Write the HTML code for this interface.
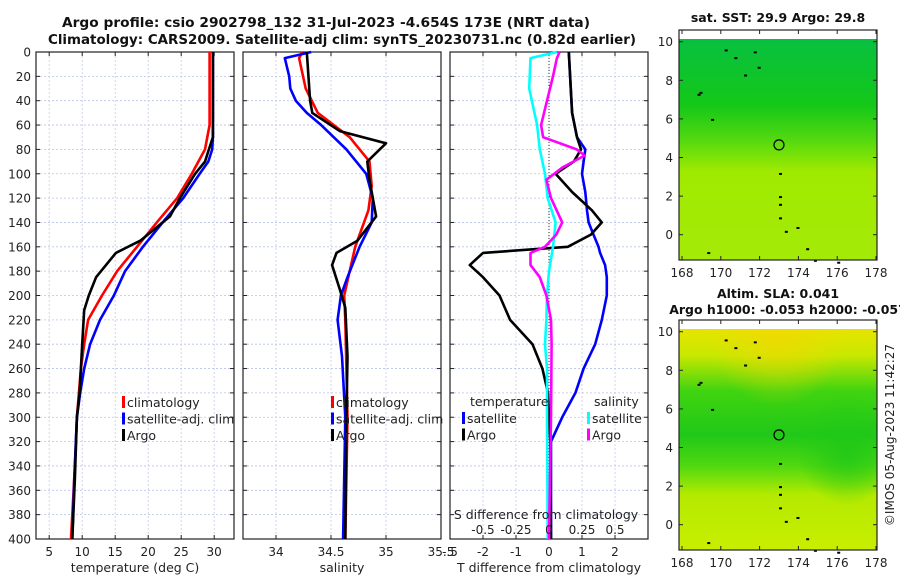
<!DOCTYPE html>
<html><head><meta charset="utf-8"><style>
html,body{margin:0;padding:0;background:#fff;}
svg{display:block;font-family:"DejaVu Sans","Liberation Sans",sans-serif;}
</style></head><body>
<svg id="fig" width="900" height="580" viewBox="0 0 900 580" xmlns="http://www.w3.org/2000/svg">
<defs>
<linearGradient id="sstg" x1="0" y1="0" x2="0" y2="1">
<stop offset="0" stop-color="#08c040"/><stop offset="0.3" stop-color="#14c818"/><stop offset="0.45" stop-color="#50d810"/><stop offset="0.6" stop-color="#a0ea00"/><stop offset="1" stop-color="#a4ea08"/>
</linearGradient>
<linearGradient id="slag" x1="0" y1="0" x2="0" y2="1">
<stop offset="0" stop-color="#e6e400"/><stop offset="0.12" stop-color="#c8e800"/><stop offset="0.28" stop-color="#40d410"/><stop offset="0.48" stop-color="#20c818"/><stop offset="0.62" stop-color="#50d810"/><stop offset="0.75" stop-color="#b4ea00"/><stop offset="1" stop-color="#c8ee00"/>
</linearGradient>
<radialGradient id="slaband" cx="0.85" cy="0.55" r="0.25"><stop offset="0" stop-color="#20c818" stop-opacity="0.9"/><stop offset="1" stop-color="#20c818" stop-opacity="0"/></radialGradient>
<radialGradient id="slatop" cx="0.5" cy="0" r="0.35"><stop offset="0" stop-color="#f2d800" stop-opacity="0.8"/><stop offset="1" stop-color="#f2d800" stop-opacity="0"/></radialGradient>
</defs>
<g font-weight="bold" font-size="13.5" fill="#111">
<text x="62" y="27" textLength="528" lengthAdjust="spacingAndGlyphs">Argo profile: csio 2902798_132 31-Jul-2023 -4.654S 173E (NRT data)</text>
<text x="48" y="44" textLength="588" lengthAdjust="spacingAndGlyphs">Climatology: CARS2009. Satellite-adj clim: synTS_20230731.nc (0.82d earlier)</text>
</g>
<g id="panels"></g>
<g id="maps"></g>
<text transform="translate(894,435) rotate(-90)" font-size="12" fill="#222" text-anchor="middle">©IMOS 05-Aug-2023 11:42:27</text>
</svg>
<script>
// ---- data ----
const depthT = [0,60,80,100,120,140,160,180,200,220,240,260,300,340,400];
const tempClim = [29.3,29.3,28.6,26.6,24.4,21.3,18.3,15.3,13.0,10.9,10.3,9.8,9.2,8.9,8.3];
const depthTS = [0,70,80,90,100,120,140,160,180,200,220,240,260,280,300,350,400];
const tempSat = [29.8,29.8,29.7,29.1,27.8,25.3,22.2,19.2,16.5,14.8,12.7,11.2,10.3,9.7,9.2,8.8,8.5];
const depthTA = [0,70,80,90,100,120,135,155,165,185,200,212,240,280,300,350,400];
const tempArgo = [29.8,29.8,29.2,28.6,27.1,24.8,23.3,18.8,15.1,12.1,11.0,10.3,10.0,9.6,9.2,8.9,8.5];

const depthSA = [0,40,50,65,75,90,105,135,155,165,175,195,210,250,300,400];
const salArgo = [34.28,34.31,34.33,34.58,35.0,34.83,34.85,34.91,34.74,34.55,34.51,34.58,34.63,34.65,34.64,34.63];
const depthSC = [0,5,30,50,70,90,110,130,160,200,220,300,400];
const salClim = [34.24,34.21,34.27,34.38,34.67,34.85,34.87,34.84,34.72,34.62,34.63,34.65,34.63];
const depthSS = [0,5,20,30,40,50,60,80,100,120,140,160,185,200,220,250,300,400];
const salSat = [34.32,34.08,34.12,34.13,34.18,34.28,34.41,34.64,34.82,34.88,34.87,34.76,34.65,34.59,34.56,34.60,34.63,34.61];

const depthD = [0,50,70,80,90,100,115,130,140,150,160,165,175,185,200,220,240,260,280,300,320,400];
const dTsat = [0.6,0.7,0.85,1.1,1.05,1.0,1.1,1.15,1.2,1.35,1.5,1.55,1.7,1.75,1.75,1.6,1.4,1.05,0.8,0.4,0.06,0.06];
const dTargo = [0.6,0.7,0.85,0.97,0.75,0.2,0.7,1.3,1.6,1.27,0.57,-2.0,-2.4,-2.0,-1.5,-1.18,-0.5,-0.2,-0.03,0.0,0.04,0.06];
const depthDS = [0,5,30,60,80,100,120,140,160,180,200,220,240,260,300,400];
const dSsat = [0.06,-0.14,-0.15,-0.09,-0.07,-0.03,-0.01,0.05,0.03,0.0,-0.015,-0.02,-0.03,-0.015,-0.015,-0.01];
const depthDM = [0,5,20,40,60,70,80,85,95,105,120,140,150,160,165,175,185,200,220,240,300,400];
const dSargo = [0.08,0.06,0.03,-0.015,-0.06,-0.045,0.21,0.27,0.1,-0.02,0.015,0.1,0.055,-0.03,-0.14,-0.14,-0.07,-0.02,0.015,0.02,0.015,0.0];

const tTicks = [5,10,15,20,25,30];
const sTicks = [34,34.5,35,35.5];
const dTTicks = [-3,-2,-1,0,1,2];
const dTLabels = ['-.5','-2','-1','0','1','2'];
const dSTicks = [-0.5,-0.25,0,0.25,0.5];
const dSLabels = ['-0.5','-0.25','0','0.25','0.5'];
const depthTicks = [0,20,40,60,80,100,120,140,160,180,200,220,240,260,280,300,320,340,360,380,400];
const lonTicks = [168,170,172,174,176,178];
const latTicks = [0,2,4,6,8,10];

// ---- helpers ----
const NS='http://www.w3.org/2000/svg';
function mk(tag, attrs, parent, txt){const e=document.createElementNS(NS,tag);for(const k in attrs)e.setAttribute(k,attrs[k]);if(txt!==undefined)e.textContent=txt;parent.appendChild(e);return e;}
const PT=52, PB=539;
const yD = d => PT + d*(PB-PT)/400;
const panelsG = document.getElementById('panels');

function panel(x0, xmin, xmax, name){
  const g = mk('g',{},panelsG);
  
  
  const w=198;
  const sx = v => x0 + (v-xmin)*w/(xmax-xmin);
  return {g,sx,x0,w};
}
function frame(p, xTicks, xLabels, xlabel, showDepth){
  const g=p.g;
  depthTicks.forEach(d=>{ if(d>0&&d<400){const l=mk('line',{x1:p.x0,x2:p.x0+p.w,y1:yD(d),y2:yD(d),stroke:'#b8c4e8','stroke-width':0.8,'stroke-dasharray':'2,2'},g);}});
  xTicks.forEach(v=>{const x=p.sx(v); if(x>p.x0+1&&x<p.x0+p.w-1){const l=mk('line',{x1:x,x2:x,y1:PT,y2:PB,stroke:'#c8c8e8','stroke-width':0.8,'stroke-dasharray':'2,2'},g);}});
  depthTicks.forEach(d=>{mk('line',{x1:p.x0,x2:p.x0+4,y1:yD(d),y2:yD(d),stroke:'#222'},g);mk('line',{x1:p.x0+p.w,x2:p.x0+p.w-4,y1:yD(d),y2:yD(d),stroke:'#222'},g);
    if(showDepth){const t=mk('text',{x:p.x0-5,y:yD(d)+4.5,'font-size':12,'text-anchor':'end',fill:'#222'},g,String(d));}});
  xTicks.forEach((v,i)=>{const x=p.sx(v);mk('line',{x1:x,x2:x,y1:PB,y2:PB-4,stroke:'#222'},g);mk('line',{x1:x,x2:x,y1:PT,y2:PT+4,stroke:'#222'},g);
    const t=mk('text',{x:x,y:PB+17,'font-size':12,'text-anchor':'middle',fill:'#222'},g,xLabels[i]);});
  const xl=mk('text',{x:p.x0+p.w/2,y:PB+33,'font-size':12.5,'text-anchor':'middle',fill:'#222'},g,xlabel);
  
  const r=mk('rect',{x:p.x0,y:PT,width:p.w,height:PB-PT,fill:'none',stroke:'#222','stroke-width':1.2},g);
  
}
function line(p, depths, vals, f, color, name, w){
  const pts = depths.map((d,i)=>f(vals[i]).toFixed(1)+','+yD(d).toFixed(1)).join(' ');
  const pl = mk('polyline',{points:pts,fill:'none',stroke:color,'stroke-width':w||2.6,'stroke-linejoin':'round'},p.g);
  
  
}
function legend(p, x, y, items){
  items.forEach((it,i)=>{
    const yy=y+i*16.5;
    const r=mk('rect',{x:x,y:yy-10,width:3,height:12,fill:it[1]},p.g);
    
    const t=mk('text',{x:x+5,y:yy+1,'font-size':12.5,fill:'#222'},p.g,it[0]);
    
  });
}

const p1 = panel(36, 3, 33, 'temperature-panel');
frame(p1, tTicks, tTicks.map(String), 'temperature (deg C)', true);
line(p1, depthT, tempClim, p1.sx, '#ff0000', 'climatology-temp-line');
line(p1, depthTS, tempSat, p1.sx, '#0000ff', 'satellite-temp-line');
line(p1, depthTA, tempArgo, p1.sx, '#000000', 'argo-temp-line');
legend(p1, 122, 406, [['climatology','#ff0000'],['satellite-adj. clim','#0000ff'],['Argo','#000000']]);

const p2 = panel(243, 33.7, 35.5, 'salinity-panel');
frame(p2, sTicks, sTicks.map(String), 'salinity', false);
line(p2, depthSC, salClim, p2.sx, '#ff0000', 'climatology-salinity-line');
line(p2, depthSS, salSat, p2.sx, '#0000ff', 'satellite-salinity-line');
line(p2, depthSA, salArgo, p2.sx, '#000000', 'argo-salinity-line');
legend(p2, 331, 406, [['climatology','#ff0000'],['satellite-adj. clim','#0000ff'],['Argo','#000000']]);

const p3 = panel(450, -3, 3, 'difference-panel');
frame(p3, dTTicks, dTLabels, 'T difference from climatology', false);
const zx = p3.sx(0);
const zl = mk('line',{x1:zx,x2:zx,y1:PT,y2:PB,stroke:'#333','stroke-width':1,'stroke-dasharray':'1,2'},p3.g);

const sS = v => p3.sx(v*4);
line(p3, depthD, dTsat, p3.sx, '#0000ff', 'satellite-tdiff-line');
line(p3, depthD, dTargo, p3.sx, '#000000', 'argo-tdiff-line');
line(p3, depthDS, dSsat, sS, '#00ffff', 'satellite-sdiff-line');
line(p3, depthDM, dSargo, sS, '#ff00ff', 'argo-sdiff-line');
[['temperature',470,406],['salinity',594,406]].forEach(a=>{const t=mk('text',{x:a[1],y:a[2],'font-size':12.5,fill:'#222'},p3.g,a[0]);});
legend(p3, 462, 422, [['satellite','#0000ff'],['Argo','#000000']]);
legend(p3, 587, 422, [['satellite','#00ffff'],['Argo','#ff00ff']]);
const sdt=mk('text',{x:p3.x0+p3.w/2-3,y:519,'font-size':12.5,'text-anchor':'middle',fill:'#222'},p3.g,'S difference from climatology');

dSTicks.forEach((v,i)=>{const t=mk('text',{x:sS(v),y:534,'font-size':12,'text-anchor':'middle',fill:'#222'},p3.g,dSLabels[i]);});

const mapsG=document.getElementById('maps');
const coastX=[170.2,171.7,171.9,169.5,168.8,173.0,173.0,173.0,173.0,173.3,173.9,174.4,174.8,176.0,169.3,170.7,171.2,168.9];
const coastY=[9.6,9.5,8.7,6.0,7.3,3.2,2.0,1.6,0.9,0.2,0.4,-0.7,-1.3,-1.4,-0.9,9.2,8.3,7.4];
function map(top, title1, title2, fill, extra, name){
  const g=mk('g',{},mapsG);
  
  
  const L=679,R=877,T=top,B=top+230;
  const sx = lon => 682 + (lon-168)*19.4;
  const sy = lat => (top+11.7) + (10-lat)*19.3;
  mk('rect',{x:L,y:T+9,width:R-L,height:B-T-9,fill:fill},g);
  extra.forEach(f=>mk('rect',{x:L,y:T+9,width:R-L,height:B-T-9,fill:f},g));
  coastX.forEach((lo,i)=>{const c=mk('rect',{x:sx(lo),y:sy(coastY[i]),width:3,height:2,fill:'#000'},g);});
  const c=mk('circle',{cx:sx(173),cy:sy(4.654),r:5,fill:'none',stroke:'#000','stroke-width':1.2},g);
  
  const fr=mk('rect',{x:L,y:T,width:R-L,height:B-T,fill:'none',stroke:'#222','stroke-width':1.2},g);
  
  lonTicks.forEach(lo=>{const x=sx(lo);mk('line',{x1:x,x2:x,y1:B,y2:B-4,stroke:'#222'},g);mk('line',{x1:x,x2:x,y1:T,y2:T+4,stroke:'#222'},g);
    const t=mk('text',{x:x,y:B+17,'font-size':12,'text-anchor':'middle',fill:'#222'},g,String(lo));});
  latTicks.forEach(la=>{const y=sy(la);mk('line',{x1:L,x2:L+4,y1:y,y2:y,stroke:'#222'},g);mk('line',{x1:R,x2:R-4,y1:y,y2:y,stroke:'#222'},g);
    const t=mk('text',{x:L-6,y:y+4.5,'font-size':12,'text-anchor':'end',fill:'#222'},g,String(la));});
  const t1=mk('text',{x:778,y:top-(title2?22:8),'font-size':12.5,'font-weight':'bold','text-anchor':'middle',fill:'#111'},g,title1);
  
  if(title2){const t2=mk('text',{x:788,y:top-6,'font-size':12.5,'font-weight':'bold','text-anchor':'middle',fill:'#111'},g,title2);}
}
map(30,'sat. SST: 29.9 Argo: 29.8',null,'url(#sstg)',[],'sst-map');
map(320,'Altim. SLA: 0.041','Argo h1000: -0.053 h2000: -0.057','url(#slag)',['url(#slaband)','url(#slatop)'],'sla-map');
</script>
</body></html>
